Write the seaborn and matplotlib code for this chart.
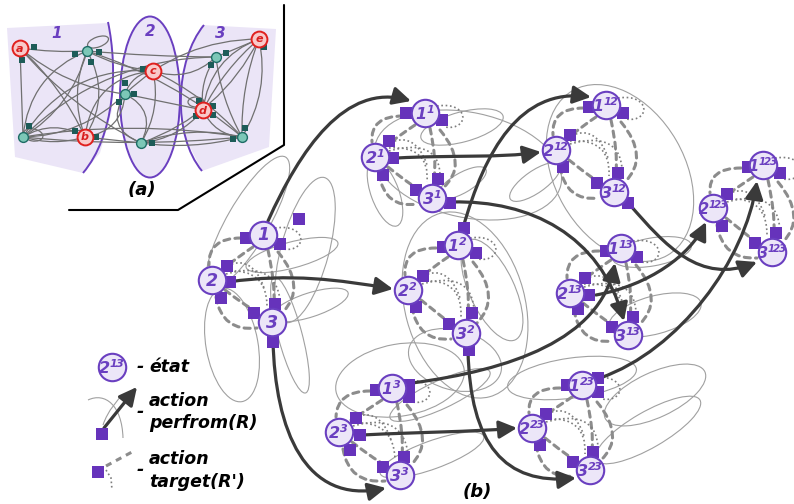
import matplotlib
matplotlib.use("Agg")
import matplotlib.pyplot as plt
import seaborn as sns
import pandas as pd
from matplotlib.path import Path
from matplotlib.patches import PathPatch, FancyArrowPatch, Ellipse, Polygon

# ---- data (pixel space of the original figure) ----
cluster_names = ['', '1', '2', '3', '12', '13', '23', '123']
n1_x = [263, 425, 458, 392, 606, 621, 582, 763]
n1_y = [235, 113, 245, 388, 105, 248, 385, 165]
n2_x = [212, 375, 408, 339, 556, 570, 532, 713]
n2_y = [280, 157, 290, 432, 150, 293, 428, 208]
n3_x = [272, 432, 466, 400, 614, 628, 590, 772]
n3_y = [322, 198, 333, 475, 192, 335, 470, 252]

# squares attached to states: (node, dx, dy)
squares = {
    '':    [(1, -17, 3), (1, 17, 9), (1, 36, -16), (2, 15, -14), (2, 18, 2), (2, 9, 18),
            (3, -18, -9), (3, 3, -18), (3, 1, 20)],
    '1':   [(1, -19, 0), (1, 17, 7), (2, 14, -16), (2, 18, 1), (2, 8, 18),
            (3, -16, -8), (3, 6, -19), (3, 18, 5)],
    '2':   [(1, 6, -17), (1, -15, 2), (1, 18, 8), (2, 15, -14), (2, 8, 17),
            (3, 6, -20), (3, -17, -9), (3, 3, 17)],
    '3':   [(1, -16, 2), (1, 17, -3), (1, 17, 9), (2, 17, -14), (2, 21, 3), (2, 11, 18),
            (3, 4, -18), (3, -17, -8)],
    '12':  [(1, -17, 2), (1, 17, 8), (2, 14, -15), (2, 7, 17), (3, 4, -19), (3, -17, -9), (3, 14, 11)],
    '13':  [(1, -15, 3), (1, 16, 9), (2, 15, -15), (2, 19, 2), (2, 8, 16), (3, 5, -18), (3, -16, -8)],
    '23':  [(1, -15, 0), (1, 16, -7), (1, 16, 7), (2, 14, -14), (2, 8, 17), (3, 3, -18), (3, -17, -8)],
    '123': [(1, -15, 2), (1, 17, 8), (2, 14, -14), (2, 9, 18), (3, 4, -19), (3, -17, -9)],
}

# thin "perform" loops: cx, cy, w, h, angle
loops = [
    (248, 222, 150, 42, -60), (305, 250, 150, 48, -75), (292, 255, 95, 26, -15),
    (310, 305, 80, 24, -18), (232, 345, 115, 52, 80), (290, 335, 120, 24, 75),
    (462, 127, 85, 30, -15), (468, 165, 190, 105, 12), (385, 193, 70, 28, 70), (462, 183, 55, 20, -30),
    (465, 305, 190, 120, 75), (492, 290, 110, 45, 65), (455, 360, 95, 60, 15),
    (400, 380, 130, 72, -10), (432, 455, 110, 28, -20), (440, 395, 110, 28, -25),
    (620, 173, 190, 130, 60), (535, 182, 60, 22, -35),
    (652, 252, 80, 28, -10), (655, 315, 95, 38, -15),
    (572, 378, 130, 40, -8), (655, 395, 110, 45, -25), (648, 430, 120, 36, -30),
]

# thick transitions (cubic bezier control points)
arrows = [
    [(268, 221), (300, 150), (345, 82), (411, 101)],
    [(228, 282), (290, 273), (340, 280), (393, 289)],
    [(273, 340), (275, 430), (305, 505), (386, 488)],
    [(397, 158), (450, 155), (500, 158), (541, 152)],
    [(463, 228), (485, 150), (520, 88), (591, 97)],
    [(452, 202), (530, 200), (600, 235), (624, 321)],
    [(468, 350), (470, 445), (505, 485), (576, 478)],
    [(362, 435), (420, 432), (470, 432), (517, 428)],
    [(412, 383), (510, 370), (600, 340), (615, 263)],
    [(596, 295), (650, 285), (690, 255), (706, 222)],
    [(630, 205), (665, 245), (700, 285), (757, 262)],
    [(600, 378), (680, 350), (745, 260), (757, 181)],
]

# panel (a)
a_nodes = {'a': (20, 48), 't1': (87, 51), 't2': (125, 94), 't3': (23, 137), 'b': (85, 137),
           't4': (141, 143), 'c': (153, 71), 't5': (216, 57), 'd': (203, 110), 'e': (259, 39),
           't6': (242, 137)}
a_red = ['a', 'b', 'c', 'd', 'e']
a_edges = [('a', 't1', 0.05), ('a', 't3', 0), ('a', 'b', -0.1), ('a', 't4', 0.1), ('a', 't2', 0.15),
           ('t1', 't5', 0.02), ('t1', 't3', 0.3), ('t1', 't3', -0.2), ('t1', 'b', 0.2), ('t1', 'b', -0.3),
           ('t1', 'c', 0.1), ('t1', 't6', -0.1), ('t3', 'b', -0.3), ('t3', 'b', 0.15), ('t3', 'c', -0.3),
           ('t3', 't5', -0.2), ('t3', 't2', 0.2), ('b', 't4', 0.0), ('b', 't2', 0.4), ('b', 'c', -0.4),
           ('t2', 'd', 0.0), ('t2', 't4', 0.6), ('t2', 't4', -0.5), ('t2', 'e', -0.2), ('c', 't2', 0.3),
           ('c', 't6', -0.1), ('c', 't5', 0.3), ('c', 't4', -0.2), ('t4', 't6', 0.1), ('t4', 't6', -0.15),
           ('t4', 'e', 0.2), ('t4', 'd', 0.2), ('t5', 't6', 0.1), ('t5', 'd', 0.2), ('d', 't6', 0.3),
           ('d', 'e', -0.1), ('e', 't6', 0.1), ('e', 't6', -0.2), ('e', 't5', 0), ('e', 'd', 0.3),
           ('t6', 't3', 0.08), ('t6', 't3', -0.05)]
a_sq_x = [34, 22, 75, 99, 91, 125, 134, 119, 29, 75, 96, 143, 152, 226, 211, 199, 213, 196, 213, 245, 233, 264]
a_sq_y = [47, 60, 54, 52, 62, 83, 94, 102, 126, 131, 137, 69, 143, 53, 65, 101, 106, 116, 115, 128, 139, 47]

PURPLE = '#6a3fc0'
SQ = '#6633bb'
FILL = '#ece6f8'
GREY = '#8c8c8c'
DARK = '#3a3a3a'

sns.set_style('white')
plt.rcParams['font.family'] = ['DejaVu Sans']
plt.rcParams['mathtext.fontset'] = 'custom'
plt.rcParams['mathtext.rm'] = 'DejaVu Sans:bold:italic'
plt.rcParams['mathtext.it'] = 'DejaVu Sans:bold:italic'
plt.rcParams['mathtext.bf'] = 'DejaVu Sans:bold:italic'

fig = plt.figure(figsize=(7.94, 5.04), dpi=100)
ax = fig.add_axes([0, 0, 1, 1])
ax.set_xlim(0, 794)
ax.set_ylim(504, 0)
ax.axis('off')


def cubic(p0, p1, p2, p3):
    return Path([p0, p1, p2, p3], [Path.MOVETO, Path.CURVE4, Path.CURVE4, Path.CURVE4])


def quad(p0, p1, p2):
    return Path([p0, p1, p2], [Path.MOVETO, Path.CURVE3, Path.CURVE3])


def off(p, dx, dy):
    return (p[0] + dx, p[1] + dy)


def state_label(x, y, base, supers):
    kw = dict(color=PURPLE, ha='center', va='center', zorder=6)
    if not supers:
        ax.text(x, y + 0.5, base, fontsize=12.5, fontweight='bold', fontstyle='italic', **kw)
        return
    s = r'\!'.join(supers)
    fs = 10.5 if len(supers) > 2 else 11.5
    ax.text(x - 0.5, y + 0.5, r'$\mathbf{' + base + r'}^{\mathbf{' + s + r'}}$', fontsize=fs, **kw)


# ---- panel (a) ----
reg1 = [(7, 28), (108, 23), (113, 60), (112, 110), (100, 153), (83, 173), (15, 157)]
reg3 = [(202, 25), (276, 29), (269, 147), (202, 171), (184, 135), (180, 100), (186, 60)]
ax.add_patch(Polygon(reg1, closed=True, fc='#ebe5f7', ec='none', zorder=1))
ax.add_patch(Polygon(reg3, closed=True, fc='#ebe5f7', ec='none', zorder=1))
ax.add_patch(Ellipse((150, 97), 60, 161, fc='#ebe5f7', ec=PURPLE, lw=1.4, zorder=1.5))
ax.add_patch(PathPatch(cubic((108, 22), (118, 70), (115, 135), (83, 173)), fc='none', ec=PURPLE, lw=1.4, zorder=1.5))
ax.add_patch(PathPatch(cubic((204, 25), (175, 60), (172, 135), (202, 171)), fc='none', ec=PURPLE, lw=1.4, zorder=1.5))

for u, v, r in a_edges:
    ax.add_patch(FancyArrowPatch(a_nodes[u], a_nodes[v], arrowstyle='-', connectionstyle=f'arc3,rad={r}',
                                 color='#707070', lw=0.9, shrinkA=0, shrinkB=0, zorder=2))
for cx, cy, w, h, ang in [(98, 42, 22, 10, -20), (33, 135, 20, 12, 10), (196, 102, 16, 10, 0)]:
    ax.add_patch(Ellipse((cx, cy), w, h, angle=ang, fc='none', ec='#707070', lw=0.9, zorder=2))

sns.scatterplot(x=a_sq_x, y=a_sq_y, marker='s', s=16, color='#1d5c58', edgecolor='none', ax=ax, zorder=3)
teal = [k for k in a_nodes if k not in a_red]
sns.scatterplot(x=[a_nodes[k][0] for k in teal], y=[a_nodes[k][1] for k in teal], s=50,
                color='#7cc7b7', edgecolor='#1e6d66', linewidth=1, ax=ax, zorder=4)
sns.scatterplot(x=[a_nodes[k][0] for k in a_red], y=[a_nodes[k][1] for k in a_red], s=130,
                color='#f9c9c9', edgecolor='#e0201e', linewidth=1.4, ax=ax, zorder=4)
for k in a_red:
    ax.text(a_nodes[k][0], a_nodes[k][1] + 0.5, k, color='#d81e1e', fontsize=8, fontweight='bold',
            fontstyle='italic', ha='center', va='center', zorder=5)
for lab, x, y in [('1', 57, 33), ('2', 150, 32), ('3', 220, 34)]:
    ax.text(x, y, lab, color=PURPLE, fontsize=11, fontweight='bold', fontstyle='italic',
            ha='center', va='center', zorder=5)
ax.plot([284, 284, 178, 69], [5, 145, 210, 210], color='black', lw=1.5, zorder=5)
ax.text(142, 190, '(a)', color='black', fontsize=13, fontweight='bold', fontstyle='italic',
        ha='center', va='center')

# ---- panel (b) ----
for cx, cy, w, h, ang in loops:
    ax.add_patch(Ellipse((cx, cy), w, h, angle=ang, fc='none', ec='#a0a0a0', lw=0.8, zorder=1))

node_x, node_y, node_base, node_sup, sq_x, sq_y = [], [], [], [], [], []
for i, name in enumerate(cluster_names):
    P = {1: (n1_x[i], n1_y[i]), 2: (n2_x[i], n2_y[i]), 3: (n3_x[i], n3_y[i])}
    P1, P2, P3 = P[1], P[2], P[3]
    dashed = [
        quad(off(P1, -22, 3), off(P1, -55, 3), off(P2, -3, -15)),
        quad(off(P2, 4, 17), off(P2, 10, 52), off(P3, -15, 6)),
        quad(off(P1, 15, 17), off(P1, 44, 52), off(P3, 11, -10)),
        quad(off(P1, 5, 15), off(P1, 12, 48), off(P3, 2, -20)),
        quad(off(P1, -10, 12), off(P1, -25, 22), off(P2, 12, -12)),
        quad(off(P2, 13, 10), off(P2, 28, 22), off(P3, -20, -13)),
    ]
    for pth in dashed:
        ax.add_patch(PathPatch(pth, fc='none', ec=GREY, lw=2.2, ls=(0, (2, 1.7)), capstyle='round', zorder=2))
    dotted = [
        cubic(off(P1, 12, -7), off(P1, 45, -12), off(P1, 45, 18), off(P1, 20, 14)),
        quad(off(P2, 14, -9), off(P2, 55, -12), off(P3, -5, -16)),
        cubic(off(P2, 14, -6), off(P2, 50, -16), off(P2, 65, -4), off(P3, 8, -22)),
        cubic(off(P2, 12, -12), off(P2, 30, -24), off(P2, 45, -14), off(P2, 52, 8)),
    ]
    for pth in dotted:
        ax.add_patch(PathPatch(pth, fc='none', ec='#7d7d7d', lw=1.2, ls=(0, (1, 1.6)), zorder=2))
    for k in (1, 2, 3):
        node_x.append(P[k][0])
        node_y.append(P[k][1])
        node_base.append(str(k))
        node_sup.append(name)
    for k, dx, dy in squares[name]:
        sq_x.append(P[k][0] + dx)
        sq_y.append(P[k][1] + dy)

for pts in arrows:
    ax.add_patch(FancyArrowPatch(path=cubic(*pts), arrowstyle='-|>,head_length=0.9,head_width=0.45',
                                 mutation_scale=12, color=DARK, lw=2.3, zorder=3))

sns.scatterplot(x=sq_x, y=sq_y, marker='s', s=78, color=SQ, edgecolor='none', ax=ax, zorder=4)
nodes = pd.DataFrame({'x': node_x + [112], 'y': node_y + [367],
                      'base': node_base + ['2'], 'sup': node_sup + ['13']})
sns.scatterplot(data=nodes, x='x', y='y', s=390, color=FILL, edgecolor=PURPLE, linewidth=1.5, ax=ax, zorder=5)
for _, r in nodes.iterrows():
    state_label(r['x'], r['y'], r['base'], r['sup'])

# legend
ax.add_patch(PathPatch(cubic((88, 400), (105, 392), (122, 405), (123, 438)), fc='none', ec='#a0a0a0', lw=0.8))
ax.add_patch(PathPatch(cubic((103, 425), (108, 410), (118, 400), (122, 395)), fc='none', ec='#a0a0a0', lw=0.8))
ax.add_patch(FancyArrowPatch((104, 428), (137, 387), arrowstyle='-|>,head_length=0.9,head_width=0.45',
                             mutation_scale=12, color=DARK, lw=2.3, shrinkA=0, shrinkB=0, zorder=3))
ax.plot([106, 132], [466, 452], color=GREY, lw=2.2, ls=(0, (2, 1.7)), zorder=2)
ax.plot([106, 111, 112], [470, 478, 490], color='#7d7d7d', lw=1.2, ls=(0, (1, 1.6)), zorder=2)
sns.scatterplot(x=[102, 98], y=[434, 472], marker='s', s=78, color=SQ, edgecolor='none', ax=ax, zorder=4)
for txt, x, y in [('-', 137, 367), ('état', 149, 367), ('-', 137, 412), ('action', 149, 401),
                  ('perfrom(R)', 149, 423), ('-', 137, 470), ('action', 149, 459), ("target(R')", 149, 482)]:
    ax.text(x, y, txt, color='black', fontsize=12.5, fontweight='bold', fontstyle='italic',
            ha='left', va='center')
ax.text(477, 492, '(b)', color='black', fontsize=13, fontweight='bold', fontstyle='italic',
        ha='center', va='center')

fig.savefig('out.png', dpi=100)
